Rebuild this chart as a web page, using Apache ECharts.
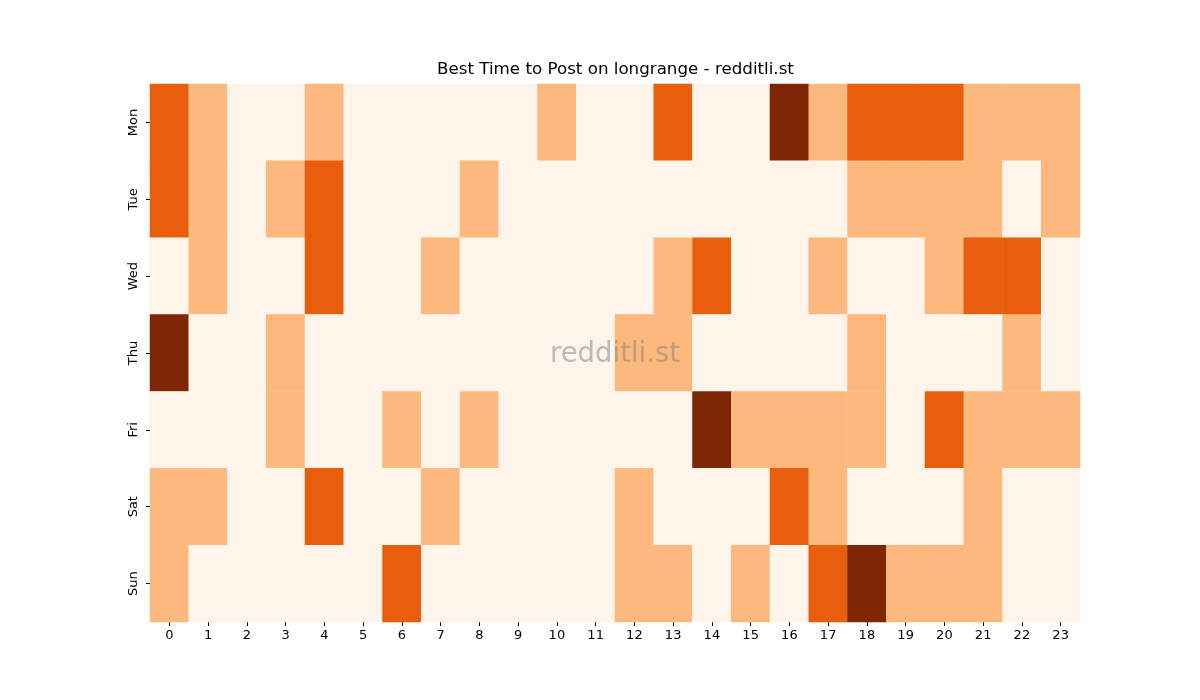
<!DOCTYPE html>
<html>
<head>
<meta charset="utf-8">
<script src="https://cdn.jsdelivr.net/npm/echarts@6/dist/echarts.min.js"></script>
<style>html,body{margin:0;padding:0;background:#fff;}#c{width:1200px;height:700px;}</style>
</head>
<body>
<div id="c"></div>
<script>
var hours = ['0','1','2','3','4','5','6','7','8','9','10','11','12','13','14','15','16','17','18','19','20','21','22','23'];
var days = ['Mon','Tue','Wed','Thu','Fri','Sat','Sun'];
var mon = [2,1,0,0,1,0,0,0,0,0,1,0,0,2,0,0,3,1,2,2,2,1,1,1];
var tue = [2,1,0,1,2,0,0,0,1,0,0,0,0,0,0,0,0,0,1,1,1,1,0,1];
var wed = [0,1,0,0,2,0,0,1,0,0,0,0,0,1,2,0,0,1,0,0,1,2,2,0];
var thu = [3,0,0,1,0,0,0,0,0,0,0,0,1,1,0,0,0,0,1,0,0,0,1,0];
var fri = [0,0,0,1,0,0,1,0,1,0,0,0,0,0,3,1,1,1,1,0,2,1,1,1];
var sat = [1,1,0,0,2,0,0,1,0,0,0,0,1,0,0,0,2,1,0,0,0,1,0,0];
var sun = [1,0,0,0,0,0,2,0,0,0,0,0,1,1,0,1,0,2,3,1,1,1,0,0];
var rows = [mon,tue,wed,thu,fri,sat,sun];
var data = [];
rows.forEach(function(r, d){ r.forEach(function(v, h){ data.push([h, d, v]); }); });

var font = 'DejaVu Sans';
var chart = echarts.init(document.getElementById('c'));
chart.setOption({
  animation: false,
  backgroundColor: '#fff',
  title: {
    text: 'Best Time to Post on longrange - redditli.st',
    left: 437, top: 61, padding: 0,
    textStyle: {fontFamily: font, fontSize: 16.7, fontWeight: 'normal', color: '#000'}
  },
  grid: {left: 150, right: 120, top: 84, bottom: 78},
  xAxis: {
    type: 'category', data: hours,
    axisLine: {show: false},
    axisTick: {show: true, alignWithLabel: true, length: 4, lineStyle: {color: '#000'}},
    axisLabel: {fontFamily: font, fontSize: 13, color: '#000', margin: 7},
    splitLine: {show: false}
  },
  yAxis: {
    type: 'category', data: days, inverse: true,
    axisLine: {show: false},
    axisTick: {show: true, alignWithLabel: true, length: 4, lineStyle: {color: '#000'}},
    axisLabel: {fontFamily: font, fontSize: 13, color: '#000', rotate: 90, margin: 10},
    splitLine: {show: false}
  },
  visualMap: {
    show: false, type: 'piecewise', dimension: 2,
    pieces: [
      {value: 0, color: '#fff4e9'},
      {value: 1, color: '#fdb97d'},
      {value: 2, color: '#e95e0d'},
      {value: 3, color: '#7f2704'}
    ]
  },
  series: [{
    type: 'heatmap', data: data,
    itemStyle: {borderWidth: 0},
    emphasis: {disabled: true}
  }],
  graphic: [{
    type: 'text', x: 615, y: 355, z: 100,
    style: {
      text: 'redditli.st', textAlign: 'center', textVerticalAlign: 'middle', verticalAlign: 'middle',
      font: '27.5px "DejaVu Sans"', fill: 'rgba(128,128,128,0.5)'
    }
  }]
});
</script>
</body>
</html>
